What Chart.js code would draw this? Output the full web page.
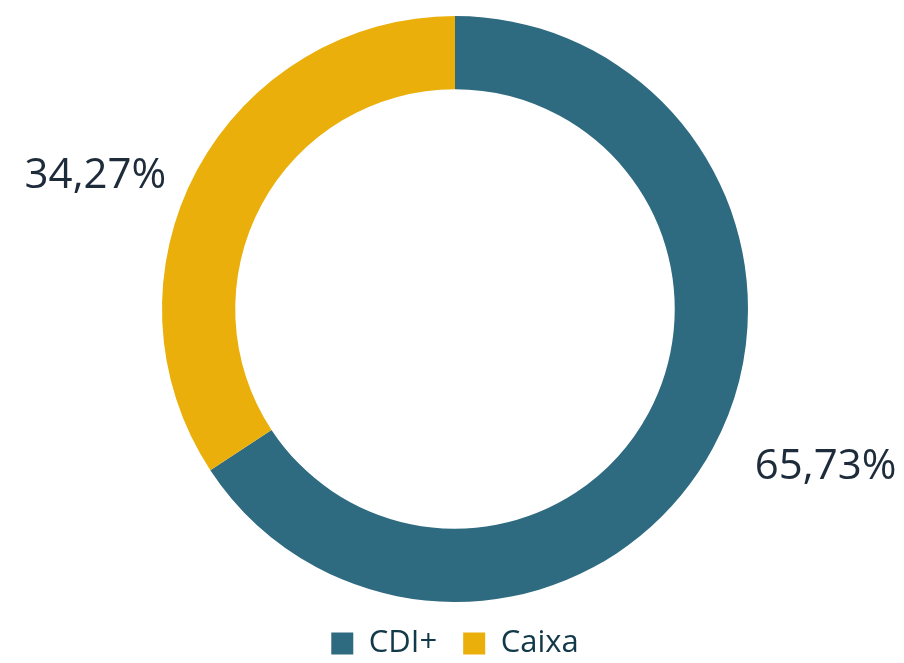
<!DOCTYPE html>
<html>
<head>
<meta charset="UTF-8">
<title>CDI+ / Caixa</title>
<script src="https://cdn.jsdelivr.net/npm/chart.js@4"></script>
<style>
  html, body { margin: 0; padding: 0; background: #ffffff; }
  #wrap { width: 904px; height: 663px; }
</style>
</head>
<body>
<div id="wrap"><canvas id="chart"></canvas></div>
<script>
const categories = ['CDI+', 'Caixa'];
const shares = [65.73, 34.27];
const sliceColors = ['#2e6a80', '#eaaf0a'];

const labelColor = '#1e2b3a';
const legendColor = '#12394a';

function fmtPct(v) {
  return v.toFixed(2).replace('.', ',') + '%';
}

// percentage labels outside the ring, like the original
const outsideLabels = {
  id: 'outsideLabels',
  afterDatasetsDraw(chart) {
    const ctx = chart.ctx;
    const meta = chart.getDatasetMeta(0);
    ctx.save();
    ctx.font = '42px "Open Sans"';
    ctx.fillStyle = labelColor;
    ctx.textBaseline = 'middle';
    meta.data.forEach((arc, i) => {
      const mid = (arc.startAngle + arc.endAngle) / 2;
      const r = arc.outerRadius + 10;
      const px = arc.x + Math.cos(mid) * r;
      const py = arc.y + Math.sin(mid) * r;
      const right = Math.cos(mid) >= 0;
      ctx.textAlign = right ? 'left' : 'right';
      ctx.fillText(fmtPct(shares[i]), px + (right ? 33 : -22), py + (right ? 14 : 11));
    });
    ctx.restore();
  }
};

new Chart(document.getElementById('chart'), {
  type: 'doughnut',
  data: {
    labels: categories,
    datasets: [{
      data: shares,
      backgroundColor: sliceColors,
      borderWidth: 0,
      hoverOffset: 0,
    }]
  },
  options: {
    responsive: true,
    maintainAspectRatio: false,
    animation: false,
    cutout: '75%',
    layout: { padding: { top: 16, left: 6, bottom: -6 } },
    plugins: {
      tooltip: { enabled: false },
      legend: {
        position: 'bottom',
        labels: {
          font: { family: 'Open Sans', size: 31 },
          color: legendColor,
          boxWidth: 22,
          boxHeight: 22,
          padding: 26,
        }
      }
    }
  },
  plugins: [outsideLabels]
});
</script>
</body>
</html>
